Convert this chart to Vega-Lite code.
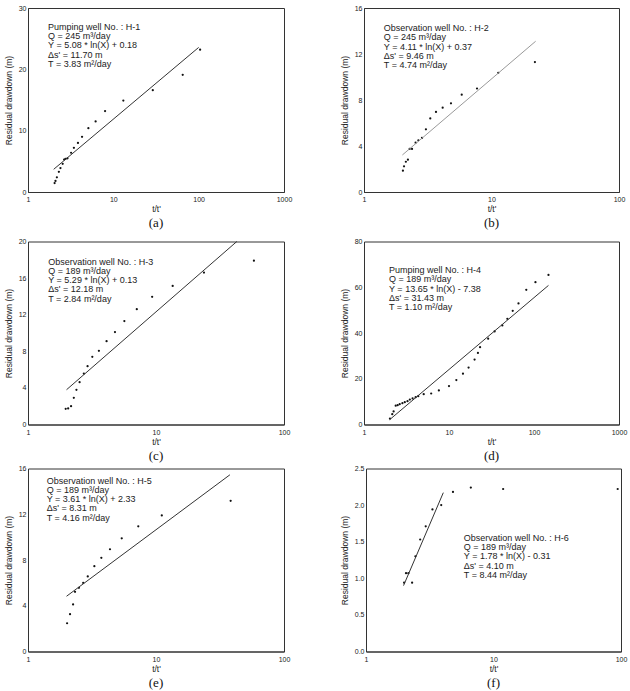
{
  "$schema": "https://vega.github.io/schema/vega-lite/v6.json",
  "padding": {"left": 3, "top": 3, "right": 0, "bottom": 0},
  "background": "white",
  "config": {
    "view": {"stroke": "#333", "strokeWidth": 1},
    "axis": {"labelFont": "Liberation Sans", "labelFontSize": 7, "labelColor": "#222", "titleFont": "Liberation Sans", "titleFontSize": 8.5, "titleFontWeight": "normal", "titleColor": "#222", "grid": false, "ticks": false, "domainColor": "#333", "labelPadding": 2, "labelOverlap": false, "labelBound": false, "labelFlush": false},
    "axisQuantitative": {"labelOverlap": false},
    "axisX": {"titlePadding": 2, "labelPadding": 3.5},
    "axisY": {"titlePadding": 5},
    "title": {"orient": "bottom", "font": "Liberation Serif", "fontSize": 13, "fontWeight": "normal", "color": "#111", "offset": 4},
    "point": {"filled": true, "color": "#111", "size": 5, "opacity": 1},
    "line": {"color": "#333", "strokeWidth": 1}
  },
  "datasets": {
    "a_pts": [
      {"tt": 2.05, "s": 1.45}, {"tt": 2.1, "s": 1.8}, {"tt": 2.18, "s": 2.4}, {"tt": 2.3, "s": 3.3}, {"tt": 2.4, "s": 3.9},
      {"tt": 2.55, "s": 4.6}, {"tt": 2.65, "s": 5.3}, {"tt": 2.75, "s": 5.4}, {"tt": 2.9, "s": 5.5}, {"tt": 3.2, "s": 6.4},
      {"tt": 3.45, "s": 7.2}, {"tt": 3.85, "s": 8.0}, {"tt": 4.3, "s": 9.0}, {"tt": 5.1, "s": 10.4}, {"tt": 6.2, "s": 11.5},
      {"tt": 8.0, "s": 13.2}, {"tt": 13.1, "s": 14.9}, {"tt": 29, "s": 16.6}, {"tt": 65, "s": 19.1}, {"tt": 104, "s": 23.2}
    ],
    "a_fit": [{"tt": 2.0, "s": 3.7}, {"tt": 100, "s": 23.57}],
    "a_txt": [{"tt": 1.72, "s": 27.6, "label": "Pumping well No. : H-1\nQ = 245 m³/day\nY = 5.08 * ln(X) + 0.18\nΔs' = 11.70 m\nT = 3.83 m²/day"}],
    "b_pts": [
      {"tt": 2.02, "s": 1.85}, {"tt": 2.06, "s": 2.23}, {"tt": 2.13, "s": 2.63}, {"tt": 2.21, "s": 2.81}, {"tt": 2.28, "s": 3.74},
      {"tt": 2.38, "s": 3.74}, {"tt": 2.54, "s": 4.29}, {"tt": 2.67, "s": 4.5}, {"tt": 2.85, "s": 4.7}, {"tt": 3.06, "s": 5.45},
      {"tt": 3.31, "s": 6.4}, {"tt": 3.67, "s": 6.96}, {"tt": 4.14, "s": 7.33}, {"tt": 4.81, "s": 7.71}, {"tt": 5.84, "s": 8.46},
      {"tt": 7.7, "s": 9.0}, {"tt": 11.3, "s": 10.37}, {"tt": 21.9, "s": 11.3}
    ],
    "b_fit": [{"tt": 2.0, "s": 3.22}, {"tt": 22.2, "s": 13.11}],
    "b_txt": [{"tt": 1.43, "s": 14.6, "label": "Observation well No. : H-2\nQ = 245 m³/day\nY = 4.11 * ln(X) + 0.37\nΔs' = 9.46 m\nT = 4.74 m²/day"}],
    "c_pts": [
      {"tt": 1.97, "s": 1.71}, {"tt": 2.06, "s": 1.75}, {"tt": 2.17, "s": 2.0}, {"tt": 2.28, "s": 2.92}, {"tt": 2.39, "s": 3.79},
      {"tt": 2.53, "s": 4.62}, {"tt": 2.73, "s": 5.57}, {"tt": 2.92, "s": 6.37}, {"tt": 3.18, "s": 7.4}, {"tt": 3.58, "s": 8.05},
      {"tt": 4.11, "s": 9.1}, {"tt": 4.78, "s": 10.1}, {"tt": 5.66, "s": 11.3}, {"tt": 7.08, "s": 12.6}, {"tt": 9.33, "s": 13.95},
      {"tt": 13.5, "s": 15.15}, {"tt": 23.7, "s": 16.6}, {"tt": 58.2, "s": 17.9}
    ],
    "c_fit": [{"tt": 2.0, "s": 3.8}, {"tt": 42.8, "s": 20.0}],
    "c_txt": [{"tt": 1.44, "s": 18.25, "label": "Observation well No. : H-3\nQ = 189 m³/day\nY = 5.29 * ln(X) + 0.13\nΔs' = 12.18 m\nT = 2.84 m²/day"}],
    "d_pts": [
      {"tt": 2.02, "s": 2.6}, {"tt": 2.15, "s": 4.5}, {"tt": 2.23, "s": 5.7}, {"tt": 2.36, "s": 8.2}, {"tt": 2.49, "s": 8.45},
      {"tt": 2.63, "s": 8.9}, {"tt": 2.83, "s": 9.3}, {"tt": 3.02, "s": 9.75}, {"tt": 3.25, "s": 10.2}, {"tt": 3.46, "s": 10.9},
      {"tt": 3.73, "s": 11.4}, {"tt": 4.05, "s": 11.95}, {"tt": 4.35, "s": 12.4}, {"tt": 5.04, "s": 13.25}, {"tt": 6.17, "s": 13.55},
      {"tt": 7.6, "s": 14.9}, {"tt": 10.0, "s": 16.8}, {"tt": 12.2, "s": 19.4}, {"tt": 14.6, "s": 22.2}, {"tt": 17.0, "s": 24.9},
      {"tt": 20.0, "s": 28.4}, {"tt": 21.9, "s": 31.3}, {"tt": 23.2, "s": 33.8}, {"tt": 28.9, "s": 37.5}, {"tt": 34.4, "s": 40.7},
      {"tt": 42.4, "s": 43.3}, {"tt": 48.6, "s": 46.2}, {"tt": 56.2, "s": 49.7}, {"tt": 65.7, "s": 52.9}, {"tt": 81.1, "s": 58.9},
      {"tt": 104, "s": 62.2}, {"tt": 148, "s": 65.4}
    ],
    "d_fit": [{"tt": 2.0, "s": 2.08}, {"tt": 148, "s": 60.8}],
    "d_txt": [{"tt": 1.97, "s": 69.3, "label": "Pumping well No. : H-4\nQ = 189 m³/day\nY = 13.65 * ln(X) - 7.38\nΔs' = 31.43 m\nT = 1.10 m²/day"}],
    "e_pts": [
      {"tt": 2.02, "s": 2.47}, {"tt": 2.13, "s": 3.26}, {"tt": 2.25, "s": 4.11}, {"tt": 2.33, "s": 5.22}, {"tt": 2.5, "s": 5.57},
      {"tt": 2.7, "s": 6.0}, {"tt": 2.93, "s": 6.56}, {"tt": 3.3, "s": 7.46}, {"tt": 3.74, "s": 8.19}, {"tt": 4.37, "s": 8.94},
      {"tt": 5.4, "s": 9.9}, {"tt": 7.27, "s": 10.95}, {"tt": 11.1, "s": 11.9}, {"tt": 38.3, "s": 13.17}
    ],
    "e_fit": [{"tt": 2.0, "s": 4.83}, {"tt": 37.8, "s": 15.45}],
    "e_txt": [{"tt": 1.4, "s": 15.3, "label": "Observation well No. : H-5\nQ = 189 m³/day\nY = 3.61 * ln(X) + 2.33\nΔs' = 8.31 m\nT = 4.16 m²/day"}],
    "f_pts": [
      {"tt": 1.99, "s": 0.94}, {"tt": 2.06, "s": 1.07}, {"tt": 2.15, "s": 1.07}, {"tt": 2.3, "s": 0.94}, {"tt": 2.44, "s": 1.3},
      {"tt": 2.66, "s": 1.53}, {"tt": 2.94, "s": 1.71}, {"tt": 3.32, "s": 1.94}, {"tt": 3.89, "s": 2.0}, {"tt": 4.81, "s": 2.18},
      {"tt": 6.64, "s": 2.24}, {"tt": 11.9, "s": 2.22}, {"tt": 94.2, "s": 2.22}
    ],
    "f_fit": [{"tt": 1.97, "s": 0.9}, {"tt": 4.04, "s": 2.17}],
    "f_txt": [{"tt": 5.85, "s": 1.61, "label": "Observation well No. : H-6\nQ = 189 m³/day\nY = 1.78 * ln(X) - 0.31\nΔs' = 4.10 m\nT = 8.44 m²/day"}]
  },
  "vconcat": [
    {
      "hconcat": [
        {
          "width": 256, "height": 184, "title": "(a)",
          "encoding": {
            "x": {"field": "tt", "type": "quantitative", "title": "t/t'", "scale": {"type": "log", "domain": [1, 1000], "nice": false}, "axis": {"values": [1, 10, 100, 1000], "format": "d", "labelOverlap": false}},
            "y": {"field": "s", "type": "quantitative", "title": "Residual drawdown (m)", "scale": {"domain": [0, 30], "nice": false}, "axis": {"values": [0, 10, 20, 30], "labelOverlap": false}}
          },
          "layer": [
            {"data": {"name": "a_pts"}, "mark": "point"},
            {"data": {"name": "a_fit"}, "mark": "line"},
            {"data": {"name": "a_txt"}, "mark": {"type": "text", "font": "Liberation Sans", "fontSize": 9, "align": "left", "baseline": "top", "lineBreak": "\n", "lineHeight": 9.3, "color": "#222"}, "encoding": {"text": {"field": "label"}}}
          ]
        },
        {
          "width": 255, "height": 184, "title": "(b)",
          "encoding": {
            "x": {"field": "tt", "type": "quantitative", "title": "t/t'", "scale": {"type": "log", "domain": [1, 100], "nice": false}, "axis": {"values": [1, 10, 100], "format": "d", "labelOverlap": false}},
            "y": {"field": "s", "type": "quantitative", "title": "Residual drawdown (m)", "scale": {"domain": [0, 16], "nice": false}, "axis": {"values": [0, 4, 8, 12, 16], "labelOverlap": false}}
          },
          "layer": [
            {"data": {"name": "b_pts"}, "mark": "point"},
            {"data": {"name": "b_fit"}, "mark": {"type": "line", "color": "#999"}},
            {"data": {"name": "b_txt"}, "mark": {"type": "text", "font": "Liberation Sans", "fontSize": 9, "align": "left", "baseline": "top", "lineBreak": "\n", "lineHeight": 9.3, "color": "#222"}, "encoding": {"text": {"field": "label"}}}
          ]
        }
      ],
      "spacing": 46
    },
    {
      "vconcat": [
        {
          "hconcat": [
            {
              "width": 256, "height": 183, "title": "(c)",
              "encoding": {
                "x": {"field": "tt", "type": "quantitative", "title": "t/t'", "scale": {"type": "log", "domain": [1, 100], "nice": false}, "axis": {"values": [1, 10, 100], "format": "d", "labelOverlap": false}},
                "y": {"field": "s", "type": "quantitative", "title": "Residual drawdown (m)", "scale": {"domain": [0, 20], "nice": false}, "axis": {"values": [0, 4, 8, 12, 16, 20], "labelOverlap": false}}
              },
              "layer": [
                {"data": {"name": "c_pts"}, "mark": "point"},
                {"data": {"name": "c_fit"}, "mark": "line"},
                {"data": {"name": "c_txt"}, "mark": {"type": "text", "font": "Liberation Sans", "fontSize": 9, "align": "left", "baseline": "top", "lineBreak": "\n", "lineHeight": 9.3, "color": "#222"}, "encoding": {"text": {"field": "label"}}}
              ]
            },
            {
              "width": 255, "height": 183, "title": "(d)",
              "encoding": {
                "x": {"field": "tt", "type": "quantitative", "title": "t/t'", "scale": {"type": "log", "domain": [1, 1000], "nice": false}, "axis": {"values": [1, 10, 100, 1000], "format": "d", "labelOverlap": false}},
                "y": {"field": "s", "type": "quantitative", "title": "Residual drawdown (m)", "scale": {"domain": [0, 80], "nice": false}, "axis": {"values": [0, 20, 40, 60, 80], "labelOverlap": false}}
              },
              "layer": [
                {"data": {"name": "d_pts"}, "mark": "point"},
                {"data": {"name": "d_fit"}, "mark": "line"},
                {"data": {"name": "d_txt"}, "mark": {"type": "text", "font": "Liberation Sans", "fontSize": 9, "align": "left", "baseline": "top", "lineBreak": "\n", "lineHeight": 9.3, "color": "#222"}, "encoding": {"text": {"field": "label"}}}
              ]
            }
          ],
          "spacing": 48
        },
        {
          "hconcat": [
            {
              "width": 256, "height": 183, "title": "(e)",
              "encoding": {
                "x": {"field": "tt", "type": "quantitative", "title": "t/t'", "scale": {"type": "log", "domain": [1, 100], "nice": false}, "axis": {"values": [1, 10, 100], "format": "d", "labelOverlap": false}},
                "y": {"field": "s", "type": "quantitative", "title": "Residual drawdown (m)", "scale": {"domain": [0, 16], "nice": false}, "axis": {"values": [0, 4, 8, 12, 16], "labelOverlap": false}}
              },
              "layer": [
                {"data": {"name": "e_pts"}, "mark": "point"},
                {"data": {"name": "e_fit"}, "mark": "line"},
                {"data": {"name": "e_txt"}, "mark": {"type": "text", "font": "Liberation Sans", "fontSize": 9, "align": "left", "baseline": "top", "lineBreak": "\n", "lineHeight": 9.3, "color": "#222"}, "encoding": {"text": {"field": "label"}}}
              ]
            },
            {
              "width": 255, "height": 183, "title": "(f)",
              "encoding": {
                "x": {"field": "tt", "type": "quantitative", "title": "t/t'", "scale": {"type": "log", "domain": [1, 100], "nice": false}, "axis": {"values": [1, 10, 100], "format": "d", "labelOverlap": false}},
                "y": {"field": "s", "type": "quantitative", "title": "Residual drawdown (m)", "scale": {"domain": [0, 2.5], "nice": false}, "axis": {"values": [0, 0.5, 1, 1.5, 2, 2.5], "format": ".1f", "labelOverlap": false}}
              },
              "layer": [
                {"data": {"name": "f_pts"}, "mark": "point"},
                {"data": {"name": "f_fit"}, "mark": "line"},
                {"data": {"name": "f_txt"}, "mark": {"type": "text", "font": "Liberation Sans", "fontSize": 9, "align": "left", "baseline": "top", "lineBreak": "\n", "lineHeight": 9.3, "color": "#222"}, "encoding": {"text": {"field": "label"}}}
              ]
            }
          ],
          "spacing": 48
        }
      ],
      "spacing": 0
    }
  ],
  "spacing": 5.5
}
